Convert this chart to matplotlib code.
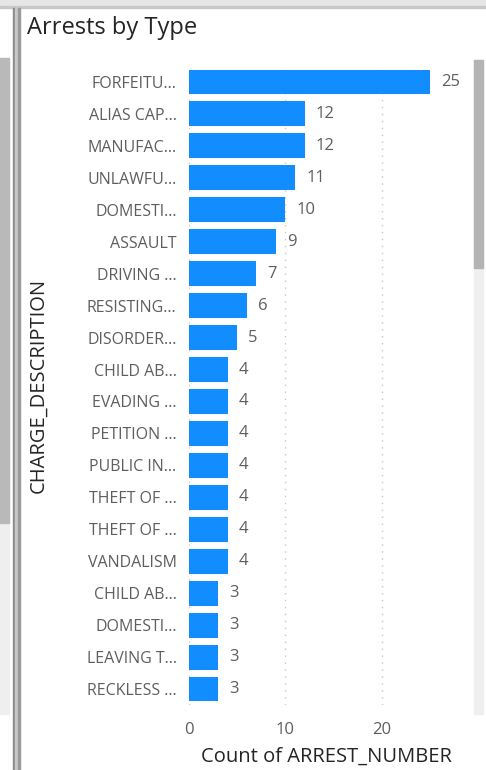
import matplotlib
matplotlib.use('Agg')
from matplotlib import pyplot as plt
from matplotlib.patches import Rectangle

categories = ['FORFEITU...', 'ALIAS CAP...', 'MANUFAC...', 'UNLAWFU...', 'DOMESTI...',
              'ASSAULT', 'DRIVING ...', 'RESISTING...', 'DISORDER...', 'CHILD AB...',
              'EVADING ...', 'PETITION ...', 'PUBLIC IN...', 'THEFT OF ...', 'THEFT OF ...',
              'VANDALISM', 'CHILD AB...', 'DOMESTI...', 'LEAVING T...', 'RECKLESS ...']
counts = [25, 12, 12, 11, 10, 9, 7, 6, 5, 4, 4, 4, 4, 4, 4, 4, 3, 3, 3, 3]
x_ticks = [0, 10, 20]

plt.rcParams['font.family'] = ['Open Sans', 'DejaVu Sans']

W, H = 486, 770
fig = plt.figure(figsize=(W / 100, H / 100), dpi=100)
fig.patch.set_facecolor('white')

# axes placement in pixels
left, right, top, bottom = 189, 430, 66, 705
ax = fig.add_axes([left / W, 1 - bottom / H, (right - left) / W, (bottom - top) / H])

pos = list(range(len(categories)))
ax.barh(pos, counts, height=0.78, color='#118DFF', zorder=3)
for p, c in zip(pos, counts):
    ax.annotate(str(c), (c, p), xytext=(8, 0), textcoords='offset points',
                va='center', ha='left', fontsize=12, color='#605E5C')

ax.set_xlim(0, 25)
ax.set_ylim(len(categories) - 0.5, -0.5)
ax.set_yticks(pos)
ax.set_yticklabels(categories, fontsize=11.5, color='#605E5C')
ax.set_xticks(x_ticks)
ax.set_xticklabels([str(t) for t in x_ticks], fontsize=12, color='#605E5C')
ax.tick_params(axis='both', length=0)
ax.tick_params(axis='y', pad=9)
ax.tick_params(axis='x', pad=12)
ax.grid(axis='x', linestyle=(0, (1, 4)), color='#C8C6C4', linewidth=1, zorder=0)
for s in ax.spines.values():
    s.set_visible(False)

ax.set_xlabel('Count of ARREST_NUMBER', fontsize=14.5, color='#252423')
ax.set_ylabel('CHARGE_DESCRIPTION', fontsize=14.5, color='#252423')
ax.xaxis.set_label_coords(326 / W, 1 - 757 / H, transform=fig.transFigure)
ax.yaxis.set_label_coords(38 / W, 1 - 385 / H, transform=fig.transFigure)
ax.xaxis.label.set_va('center')
ax.yaxis.label.set_va('center')

fig.text(27 / W, 1 - 28 / H, 'Arrests by Type', fontsize=17, color='#252423',
         ha='left', va='center')

# frame decorations (scrollbars, pane borders)
def px(x, y, w, h, **kw):
    return Rectangle((x / W, 1 - (y + h) / H), w / W, h / H, transform=fig.transFigure, **kw)

fig.patches.append(px(0, 0, W, 6, color='#E6E6E6', zorder=0))
fig.patches.append(px(0, 6, W, 2, color='#C8C8C8', zorder=0))
fig.patches.append(px(13, 8, 2, H - 8, color='#8A8A8A', zorder=0))
fig.patches.append(px(15, 8, 3, H - 8, color='#C8C8C8', zorder=0))
fig.patches.append(px(18, 8, 2, H - 8, color='#9A9A9A', zorder=0))
fig.patches.append(px(0, 58, 9, 656, color='#EFEFEF', zorder=0))
fig.patches.append(px(0, 58, 9, 465, color='#B9B9B9', zorder=0))
fig.patches.append(px(474, 60, 9, 654, color='#EFEFEF', zorder=0))
fig.patches.append(px(474, 60, 9, 208, color='#B4B4B4', zorder=0))

fig.savefig('out.png', dpi=100)
